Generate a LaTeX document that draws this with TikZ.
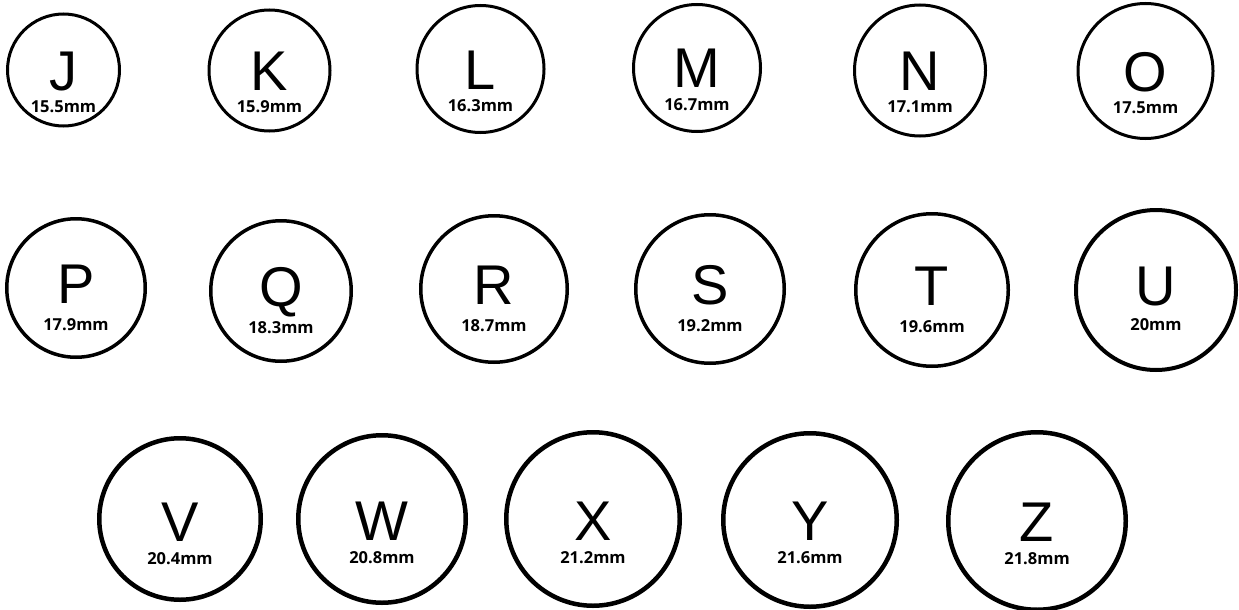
\documentclass[tikz,border=0pt]{standalone}
\usepackage{fontspec}
\newfontfamily\letterfont{Liberation Sans}
\newfontfamily\labfont{Open Sans}
\begin{document}
\begin{tikzpicture}[x=1pt,y=-1pt,
  ring/.style={circle,draw=black,inner sep=0pt},
  bigletter/.style={anchor=base,inner sep=0pt,font=\letterfont\fontsize{56}{56}\selectfont},
  sizelabel/.style={anchor=base,inner sep=0pt,font=\labfont\bfseries\fontsize{16.5}{16.5}\selectfont}]
\useasboundingbox (0,0) rectangle (1239,610);
\foreach \n/\x/\y/\r/\w/\dl/\db/\lab in {
  J/63.5/70/57.5/3/20/42/15.5mm,
  K/269.5/70.5/62/3/20/42/15.9mm,
  L/480.5/69/65/3/20/42/16.3mm,
  M/697/68/65/3/20/42/16.7mm,
  N/920/70.5/67/3/20/42/17.1mm,
  O/1145.5/71/69/3/20/42/17.5mm,
  P/76/288/71/3.5/15/42/17.9mm,
  Q/281/291/72/3.5/15/42/18.3mm,
  R/494/289/75/3.5/15/42/18.7mm,
  S/710/289/76/3.5/15/42/19.2mm,
  T/932/290/78/3.5/15/42/19.6mm,
  U/1156/290/82/4/15/40/20mm,
  V/180/519/83/4.5/22/45/20.4mm,
  W/382/519/86/4.5/21/44/20.8mm,
  X/593/519/89/4.5/21/44/21.2mm,
  Y/810/520/89/4.5/20/43/21.6mm,
  Z/1037/521/91/4.5/20/43/21.8mm}
{
  \node[ring,line width=\w pt,minimum size={2*\r pt-\w pt}] (c\n) at (\x,\y) {};
  \node[bigletter] (l\n) at (\x,\y+\dl) {\n};
  \node[sizelabel] (s\n) at (\x,\y+\db) {\lab};
}
\end{tikzpicture}
\end{document}
